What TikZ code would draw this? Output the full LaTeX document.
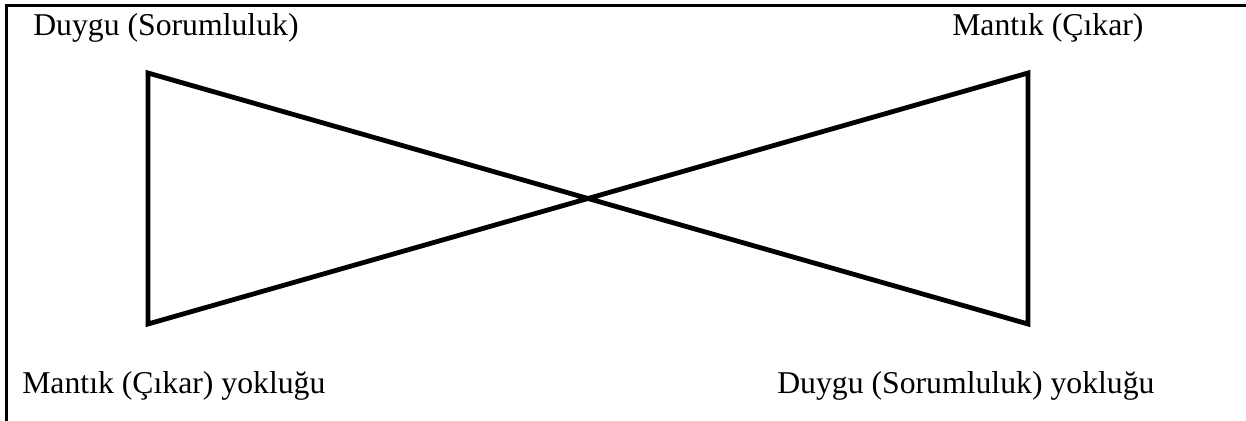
\documentclass[tikz,border=0pt]{standalone}
\usepackage{fontspec}
\setmainfont{Liberation Serif}
\begin{document}
\begin{tikzpicture}[x=0.75pt,y=-0.75pt,
  lbl/.style={anchor=base west,inner sep=0pt,font=\fontsize{23.8}{28}\selectfont},
  frame/.style={line width=2.25pt},
  bow/.style={line width=3.6pt,line join=miter}]
\useasboundingbox (0,0) rectangle (1246,421);
\draw[frame] (6,421) -- (6,5) -- (1246,5);
\coordinate (tl) at (148,73);
\coordinate (bl) at (148,324);
\coordinate (tr) at (1028,73);
\coordinate (br) at (1028,324);
\draw[bow] (tl) -- (br) -- (tr) -- (bl) -- cycle;
\node[lbl] (a) at (33,36) {Duygu (Sorumluluk)};
\node[lbl] (b) at (952,36) {Mantık (Çıkar)};
\node[lbl] (c) at (22,393) {Mantık (Çıkar) yokluğu};
\node[lbl] (d) at (777,393) {Duygu (Sorumluluk) yokluğu};
\end{tikzpicture}
\end{document}
